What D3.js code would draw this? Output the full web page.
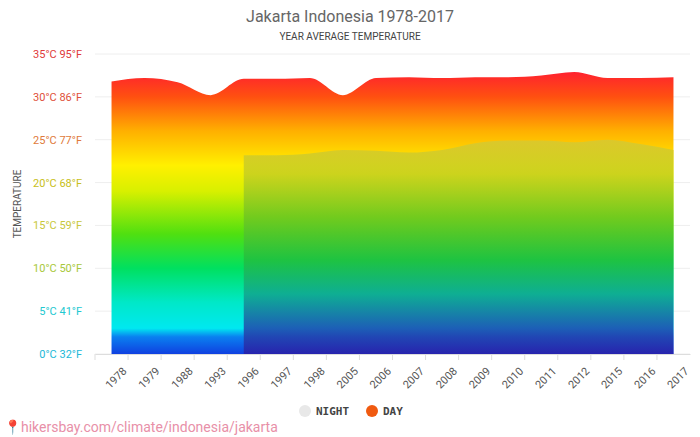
<!DOCTYPE html>
<html><head><meta charset="utf-8">
<script src="https://cdn.jsdelivr.net/npm/d3@7"></script>
<style>body{margin:0;background:#fff;font-family:Roboto,sans-serif}</style>
</head><body><svg id="c" width="700" height="437"></svg>
<script>
const years = ["1978","1979","1988","1993","1996","1997","1998","2005","2006","2007","2008","2009","2010","2011","2012","2015","2016","2017"];
const dayTemps = [31.8,32.2,31.7,30.2,32.1,32.1,32.2,30.2,32.2,32.3,32.2,32.3,32.3,32.5,32.9,32.2,32.2,32.3];
const nightTemps = [null,null,null,null,23.2,23.2,23.4,23.8,23.7,23.5,23.8,24.6,24.9,24.9,24.7,25.0,24.5,23.8];
const yTicks = [0,5,10,15,20,25,30,35];
const tickColors = ["#22b8d8","#22c8d0","#a8c83a","#c8c83a","#c8c020","#e07a3a","#e0503a","#e03a3a"];

const svg = d3.select("#c");
const x = d3.scaleBand().domain(years).range([95,690]);
const y = d3.scaleLinear().domain([0,35]).range([354,54]);
const cx = d => x(d) + x.bandwidth()/2;

const defs = svg.append("defs");
function grad(id, stops){
  const g = defs.append("linearGradient").attr("id",id).attr("gradientUnits","userSpaceOnUse")
    .attr("x1",0).attr("x2",0).attr("y1",y(0)).attr("y2",y(35));
  stops.forEach(([t,c]) => g.append("stop").attr("offset",t/35).attr("stop-color",c));
}
grad("dayG",[[0,"#1040e0"],[2,"#0a80f0"],[3,"#00e8f0"],[6,"#00e8c8"],[10,"#00e060"],[14,"#50e010"],[19,"#d8f000"],[22,"#fff000"],[26,"#ffb000"],[30,"#ff5010"],[33,"#ff2030"],[35,"#ff1040"]]);
grad("nightG",[[0,"#2a20a8"],[3,"#2050b0"],[7,"#10a890"],[11,"#20c040"],[16,"#70c820"],[21,"#c8d020"],[25,"#d8c830"],[35,"#d8c830"]]);

// grid
svg.append("g").selectAll("line").data(yTicks).join("line")
  .attr("x1",95).attr("x2",690).attr("y1",d=>y(d)).attr("y2",d=>y(d))
  .attr("stroke","#eee");

const area = d3.area().x((d,i)=>cx(years[i])).y0(y(0)).y1(d=>y(d))
  .defined(d=>d!=null).curve(d3.curveMonotoneX);
svg.append("path").datum(dayTemps).attr("d",area).attr("fill","url(#dayG)");
svg.append("path").datum(nightTemps).attr("d",area).attr("fill","url(#nightG)").attr("opacity",0.9);

// y labels
svg.append("g").selectAll("text").data(yTicks).join("text")
  .attr("x",82).attr("y",d=>y(d)+4).attr("text-anchor","end")
  .attr("font-size",11).attr("fill",(d,i)=>tickColors[i])
  .text(d=>`${d}°C ${Math.round(d*9/5+32)}°F`);
svg.append("text").attr("transform","translate(21,204) rotate(-90)")
  .attr("text-anchor","middle").attr("font-size",10).attr("fill","#555").text("TEMPERATURE");

// x axis
const xa = svg.append("g").attr("transform",`translate(0,${y(0)})`)
  .call(d3.axisBottom(x).tickSize(6).tickSizeOuter(0));
xa.select(".domain").attr("stroke","#ddd");
xa.selectAll(".tick line").attr("stroke","#ddd").attr("transform",`translate(${-x.bandwidth()/2},0)`);
xa.selectAll("text").attr("font-size",11).attr("fill","#555").attr("font-family","Roboto")
  .attr("text-anchor","end").attr("transform","translate(4,6) rotate(-45)");

// titles
svg.append("text").attr("x",350).attr("y",22).attr("text-anchor","middle")
  .attr("font-size",16).attr("fill","#666").text("Jakarta Indonesia 1978-2017");
svg.append("text").attr("x",350).attr("y",40).attr("text-anchor","middle")
  .attr("font-size",10).attr("fill","#444").text("YEAR AVERAGE TEMPERATURE");

// legend
const lg = svg.append("g").attr("font-family","DejaVu Sans Mono").attr("font-weight","bold").attr("font-size",11).attr("fill","#444");
lg.append("circle").attr("cx",305).attr("cy",411).attr("r",6).attr("fill","#e8e8e8");
lg.append("text").attr("x",316).attr("y",415).text("NIGHT");
lg.append("circle").attr("cx",372).attr("cy",411).attr("r",6).attr("fill","#f05a10");
lg.append("text").attr("x",383).attr("y",415).text("DAY");

svg.append("text").attr("x",4).attr("y",432).attr("font-size",14).attr("fill","#e890a8")
  .text("📍hikersbay.com/climate/indonesia/jakarta");
</script></body></html>
